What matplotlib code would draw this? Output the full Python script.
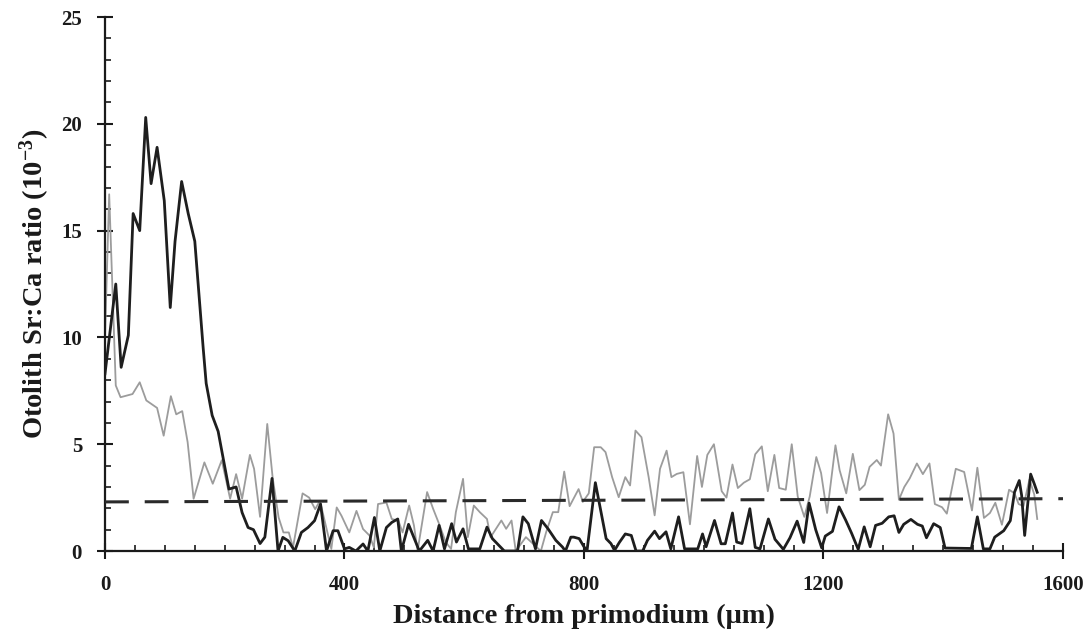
import matplotlib
matplotlib.use('Agg')
import matplotlib.pyplot as plt
from matplotlib.ticker import MultipleLocator

# Black series (Sr:Ca x10^-3 vs distance um)
black_x = [0, 18, 27, 39, 47, 58, 68, 77, 87, 99, 109, 117, 128, 139, 150, 164, 169, 179,
           189, 197, 207, 219, 229, 239, 248, 259, 267, 279, 289, 297, 306, 317, 328, 339,
           350, 360, 370, 381, 389, 400, 408, 419, 431, 439, 450, 459, 470, 479, 489, 495,
           507, 525, 539, 548, 558, 567, 579, 587, 598, 607, 626, 638, 647, 658, 667, 689,
           698, 707, 719, 729, 740, 753, 764, 769, 778, 783, 792, 800, 805, 819, 830, 837,
           845, 851, 859, 869, 879, 887, 898, 906, 918, 926, 937, 945, 958, 968, 990, 998,
           1004, 1018, 1029, 1036, 1048, 1055, 1064, 1077, 1086, 1094, 1108, 1119, 1133,
           1144, 1156, 1167, 1176, 1187, 1197, 1203, 1215, 1226, 1237, 1247, 1258, 1268,
           1278, 1287, 1298, 1309, 1318, 1326, 1334, 1346, 1357, 1365, 1372, 1384, 1395,
           1403, 1447, 1457, 1467, 1478, 1486, 1501, 1512, 1519, 1527, 1531, 1536, 1546,
           1552, 1557]
black_y = [8.3, 12.5, 8.6, 10.1, 15.8, 15.0, 20.3, 17.2, 18.9, 16.4, 11.4, 14.5, 17.3, 15.8,
           14.5, 9.5, 7.85, 6.35, 5.6, 4.4, 2.9, 3.0, 1.8, 1.1, 1.0, 0.35, 0.65, 3.4, 0.0,
           0.64, 0.48, 0.0, 0.87, 1.1, 1.42, 2.2, 0.0, 0.95, 0.95, 0.1, 0.17, 0.0, 0.33, 0.0,
           1.57, 0.0, 1.1, 1.34, 1.5, 0.0, 1.25, 0.0, 0.5, 0.0, 1.2, 0.1, 1.28, 0.42, 1.04,
           0.1, 0.1, 1.12, 0.58, 0.26, 0.0, 0.0, 1.6, 1.28, 0.1, 1.43, 1.04, 0.5, 0.19, 0.0,
           0.65, 0.65, 0.58, 0.2, 0.0, 3.2, 1.6, 0.58, 0.35, 0.03, 0.4, 0.8, 0.73, 0.0, 0.0,
           0.5, 0.93, 0.58, 0.9, 0.1, 1.6, 0.1, 0.1, 0.8, 0.2, 1.43, 0.34, 0.34, 1.78, 0.42,
           0.35, 1.98, 0.17, 0.1, 1.5, 0.55, 0.08, 0.62, 1.4, 0.4, 2.24, 1.0, 0.15, 0.7,
           0.92, 2.07, 1.45, 0.83, 0.08, 1.13, 0.2, 1.2, 1.3, 1.6, 1.65, 0.87, 1.25, 1.48,
           1.25, 1.17, 0.62, 1.28, 1.1, 0.14, 0.12, 1.6, 0.1, 0.1, 0.65, 0.95, 1.42, 2.75,
           3.3, 2.6, 0.73, 3.6, 3.15, 2.75]

# Grey series
grey_x = [0, 7, 18, 26, 46, 58, 69, 87, 98, 110, 119, 129, 138, 148, 166, 180, 195, 209,
          219, 229, 242, 249, 259, 271, 280, 290, 298, 307, 314, 330, 341, 351, 359, 378,
          387, 395, 408, 420, 431, 442, 449, 456, 470, 479, 490, 497, 508, 516, 522, 538,
          548, 559, 569, 578, 586, 598, 606, 616, 626, 638, 644, 653, 662, 670, 679, 686,
          703, 728, 737, 748, 757, 767, 776, 791, 798, 808, 817, 828, 836, 847, 858, 869,
          877, 886, 896, 908, 918, 927, 938, 946, 955, 966, 977, 989, 997, 1006, 1017,
          1030, 1038, 1048, 1057, 1067, 1077, 1086, 1097, 1107, 1118, 1126, 1137, 1147,
          1157, 1168, 1177, 1188, 1196, 1206, 1220, 1227, 1238, 1249, 1260, 1269, 1277,
          1289, 1296, 1308, 1317, 1326, 1335, 1344, 1356, 1366, 1377, 1386, 1398, 1406,
          1421, 1435, 1448, 1457, 1468, 1478, 1487, 1498, 1510, 1519, 1526, 1534, 1544,
          1552, 1557]
grey_y = [10.0, 16.7, 7.75, 7.2, 7.35, 7.9, 7.05, 6.7, 5.4, 7.25, 6.4, 6.55, 5.1, 2.45,
          4.15, 3.15, 4.25, 2.45, 3.6, 2.45, 4.5, 3.85, 1.6, 5.95, 3.44, 1.57, 0.87, 0.87,
          0.17, 2.7, 2.5, 1.96, 2.35, 0.1, 2.04, 1.65, 0.87, 1.88, 1.03, 0.72, 0.17, 2.2,
          2.27, 1.5, 1.42, 0.87, 2.13, 1.2, 0.0, 2.76, 1.98, 1.2, 0.42, 0.1, 1.82, 3.38,
          0.65, 2.13, 1.82, 1.5, 0.65, 1.04, 1.43, 1.04, 1.43, 0.0, 0.65, 0.0, 0.9, 1.82,
          1.82, 3.72, 2.1, 2.9, 2.3, 2.7, 4.86, 4.86, 4.63, 3.46, 2.52, 3.46, 3.07, 5.64,
          5.33, 3.46, 1.67, 3.85, 4.7, 3.46, 3.61, 3.69, 1.25, 4.45, 3.0, 4.5, 5.0, 2.8,
          2.5, 4.05, 2.95, 3.2, 3.36, 4.53, 4.9, 2.8, 4.5, 2.95, 2.87, 5.0, 2.55, 1.6,
          2.55, 4.4, 3.65, 1.78, 4.95, 3.78, 2.7, 4.55, 2.85, 3.1, 3.94, 4.26, 4.0, 6.4,
          5.5, 2.4, 3.0, 3.4, 4.1, 3.6, 4.1, 2.2, 2.05, 1.75, 3.85, 3.7, 1.9, 3.9, 1.55,
          1.78, 2.26, 1.23, 2.87, 2.7, 2.2, 2.1, 3.35, 2.65, 1.5]

# Trend (regression) line
trend_x = [0, 1600]
trend_y = [2.3, 2.45]

x_ticks = [0, 400, 800, 1200, 1600]
y_ticks = [0, 5, 10, 15, 20, 25]
x_label = "Distance from primodium (\u03bcm)"
y_label = r"Otolith Sr:Ca ratio (10$^{-3}$)"

plt.rcParams['font.family'] = ['Liberation Serif', 'DejaVu Serif']
plt.rcParams['font.weight'] = 'bold'
plt.rcParams['mathtext.fontset'] = 'custom'
plt.rcParams['mathtext.rm'] = 'Liberation Serif:bold'
plt.rcParams['mathtext.it'] = 'Liberation Serif:bold'
plt.rcParams['mathtext.bf'] = 'Liberation Serif:bold'
plt.rcParams['mathtext.default'] = 'rm'

fig = plt.figure(figsize=(10.88, 6.33), dpi=100)
ax = fig.add_axes([0.0965, 0.1295, 0.8805, 0.8436])

ax.plot(grey_x, grey_y, color='#9c9c9c', lw=1.3, zorder=2)
ax.plot(black_x, black_y, color='#1e1e1e', lw=2.0, zorder=3)
ax.plot(trend_x, trend_y, color='#2a2a2a', lw=2.2, ls=(0, (7.8, 5.2)), zorder=4)

ax.set_xlim(0, 1600)
ax.set_ylim(0, 25)
ax.set_xticks(x_ticks)
ax.set_yticks(y_ticks)
ax.xaxis.set_minor_locator(MultipleLocator(50))
ax.yaxis.set_minor_locator(MultipleLocator(1))

for s in ['top', 'right']:
    ax.spines[s].set_visible(False)
for s in ['left', 'bottom']:
    ax.spines[s].set_linewidth(1.6)
    ax.spines[s].set_color('#1a1a1a')

ax.tick_params(which='major', direction='inout', length=11, width=1.5, color='#1a1a1a',
               labelsize=15, labelcolor='#1a1a1a')
ax.tick_params(which='minor', direction='in', length=4, width=1.2, color='#1a1a1a')
ax.tick_params(axis='x', which='major', pad=12)
ax.tick_params(axis='y', which='major', pad=11)

ax.set_xlabel(x_label, fontsize=20.5, fontweight='bold', color='#1a1a1a')
ax.set_ylabel(y_label, fontsize=20.5, fontweight='bold', color='#1a1a1a')
ax.xaxis.label.set_va('center')
ax.yaxis.label.set_va('center')
ax.xaxis.set_label_coords(0.5, -0.122)
ax.yaxis.set_label_coords(-0.073, 0.5)

fig.savefig('out.png', dpi=100)
